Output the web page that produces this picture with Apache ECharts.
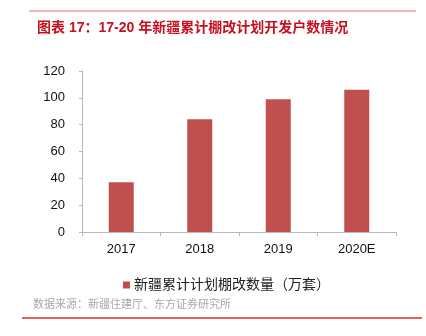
<!DOCTYPE html>
<html>
<head>
<meta charset="utf-8">
<script src="https://cdn.jsdelivr.net/npm/echarts@6/dist/echarts.min.js"></script>
<style>
  html, body { margin: 0; padding: 0; background: #fff; }
  #chart { width: 426px; height: 336px; }
</style>
</head>
<body>
<div id="chart"></div>
<script>
// Yearly cumulative planned shantytown renovation in Xinjiang (10k units)
const categories = ['2017', '2018', '2019', '2020E'];
const seriesName = '新疆累计计划棚改数量（万套）';
const values = [37, 84, 99, 106];
const yTicks = [0, 20, 40, 60, 80, 100, 120];

const titleText = '图表 17：17-20 年新疆累计棚改计划开发户数情况';
const sourceText = '数据来源：新疆住建厅、东方证券研究所';

const chart = echarts.init(document.getElementById('chart'), null, { renderer: 'canvas' });

const cjk = '"Liberation Sans", Arial, "Noto Sans CJK SC", sans-serif';

chart.setOption({
  animation: false,
  backgroundColor: '#ffffff',
  title: {
    text: titleText,
    left: 32,
    top: 16,
    textStyle: {
      color: '#c8101e',
      fontSize: 14,
      fontWeight: 'bold',
      fontFamily: cjk
    }
  },
  grid: {
    left: 82,
    right: 30,
    top: 71,
    bottom: 104,
    containLabel: false
  },
  legend: {
    data: [seriesName],
    left: 118,
    top: 273,
    itemWidth: 7,
    itemHeight: 7,
    itemGap: 5,
    icon: 'rect',
    textStyle: {
      color: '#222',
      fontSize: 14,
      fontFamily: cjk,
      padding: [0, 0, 0, -1]
    }
  },
  xAxis: {
    type: 'category',
    data: categories,
    axisLine: { lineStyle: { color: '#b8b8b8', width: 1 } },
    axisTick: { show: true, length: 4, lineStyle: { color: '#b8b8b8' } },
    axisLabel: {
      color: '#111',
      fontSize: 13,
      margin: 11,
      fontFamily: cjk
    }
  },
  yAxis: {
    type: 'value',
    min: yTicks[0],
    max: yTicks[yTicks.length - 1],
    interval: yTicks[1] - yTicks[0],
    axisLine: { show: true, lineStyle: { color: '#b8b8b8', width: 1 } },
    axisTick: { show: true, length: 3, lineStyle: { color: '#b8b8b8' } },
    splitLine: { show: false },
    axisLabel: {
      color: '#111',
      fontSize: 13,
      margin: 17,
      fontFamily: cjk
    }
  },
  series: [{
    name: seriesName,
    type: 'bar',
    data: values,
    barWidth: 25,
    itemStyle: { color: '#c0504d' }
  }],
  graphic: [
    {
      type: 'line',
      shape: { x1: 29, y1: 11, x2: 416, y2: 11 },
      style: { stroke: '#e07070', lineWidth: 1 }
    },
    {
      type: 'text',
      left: 33,
      top: 299,
      style: {
        text: sourceText,
        fill: '#a8a8a8',
        fontSize: 11,
        fontFamily: cjk
      }
    },
    {
      type: 'line',
      shape: { x1: 22, y1: 318, x2: 422, y2: 318 },
      style: { stroke: '#e02a2a', lineWidth: 1.5 }
    }
  ]
});
</script>
</body>
</html>
